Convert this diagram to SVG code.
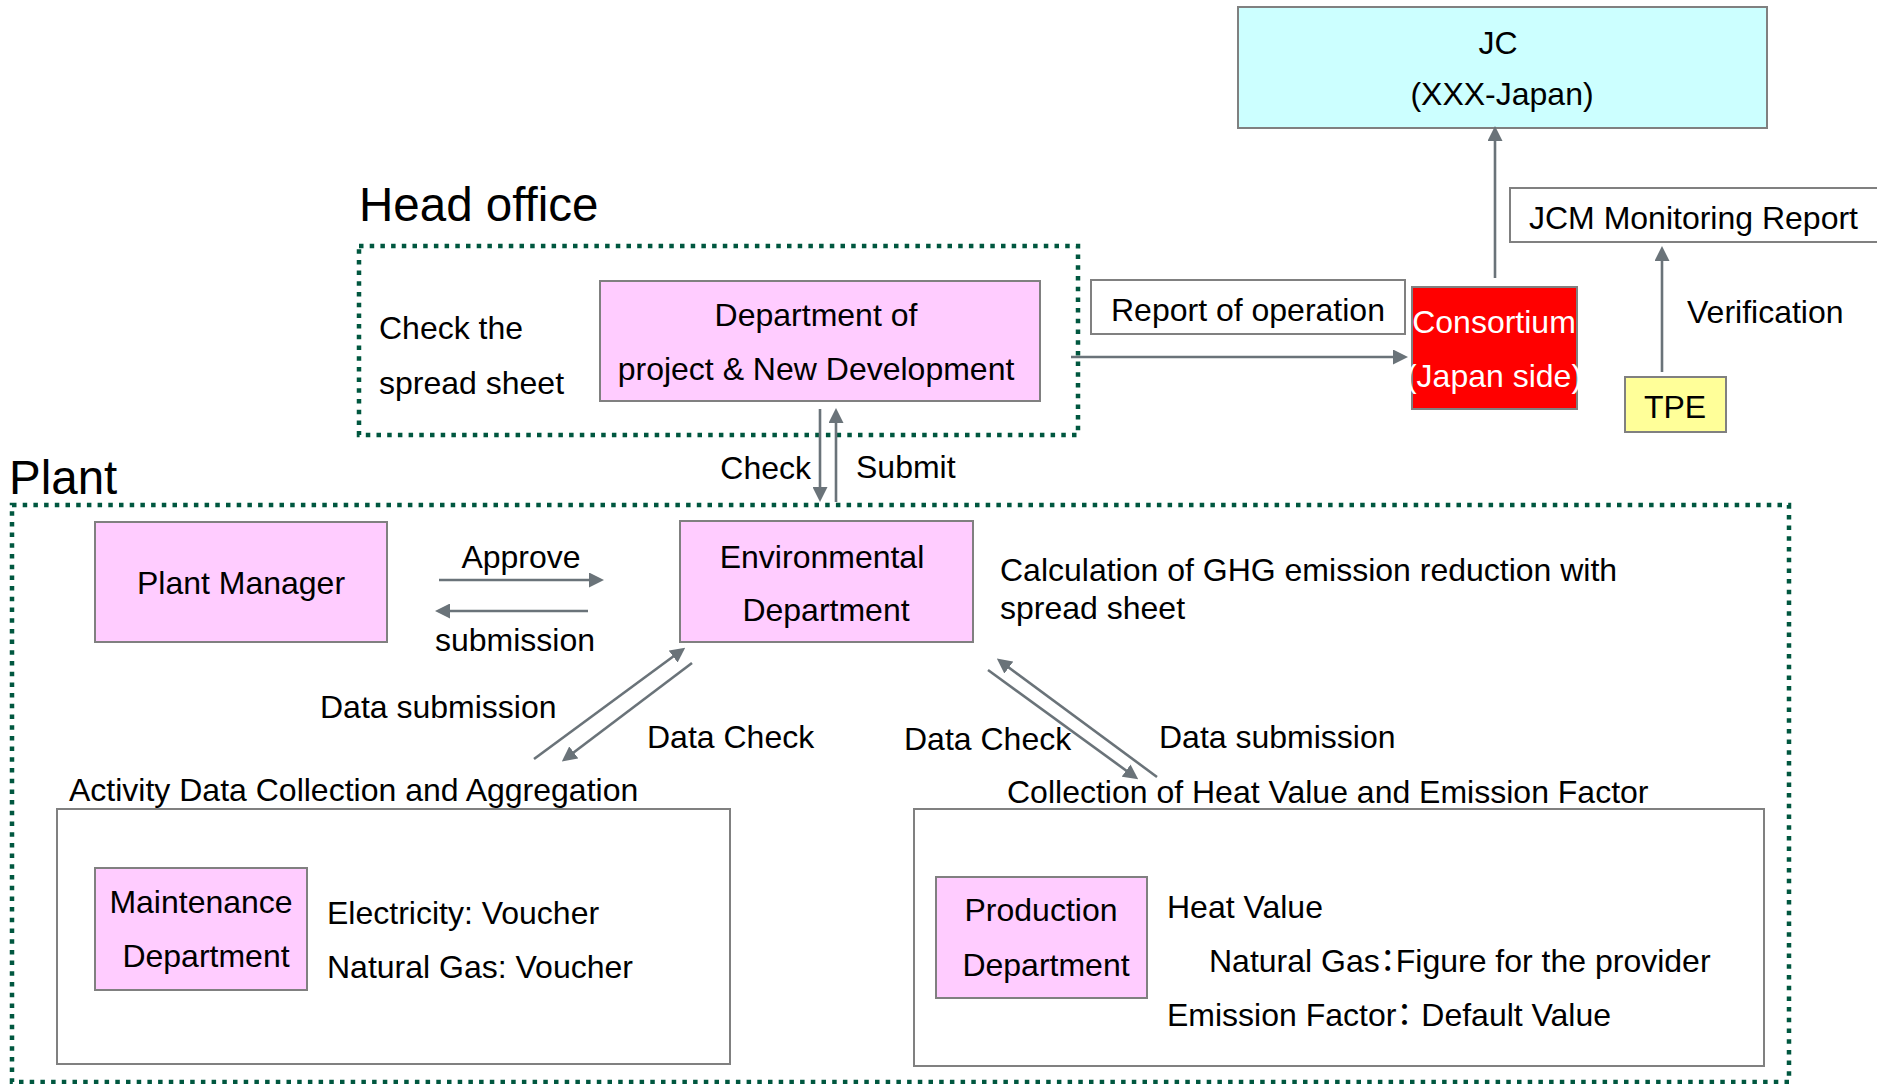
<svg xmlns="http://www.w3.org/2000/svg" width="1877" height="1084" viewBox="0 0 1877 1084">
  <style>
    text { font-family: "Liberation Sans", Arial, sans-serif; font-size: 32px; fill: #000; }
    .title { font-size: 47.5px; }
    .mid { text-anchor: middle; }
    .end { text-anchor: end; }
    .white { fill: #fff; }
    .box { stroke: #808080; stroke-width: 2; }
    .pink { fill: #ffccff; }
    .plain { fill: #fff; }
    .zone { fill: none; stroke: #00573f; stroke-width: 4.5; stroke-dasharray: 4.5 6.2; }
    .link { fill: none; stroke: #6a7379; stroke-width: 2.6; marker-end: url(#head); }
    .cjk { font-family: "Liberation Sans", "Noto Sans CJK JP", sans-serif; }
    .half { font-feature-settings: "halt"; }
  </style>
  <defs>
    <marker id="head" markerUnits="userSpaceOnUse" viewBox="0 0 15 15" markerWidth="15" markerHeight="15" refX="11" refY="7.5" orient="auto">
      <path d="M0,0 L15,7.5 L0,15 z" fill="#6a7379"/>
    </marker>
  </defs>

  <rect width="1877" height="1084" fill="#fff"/>

  <!-- zone outlines and their headings -->
  <g id="head-office">
    <text class="title" x="359" y="221">Head office</text>
    <rect class="zone" x="359" y="246" width="719" height="189"/>
    <text x="379" y="339">Check the</text>
    <text x="379" y="394">spread sheet</text>
  </g>
  <g id="plant">
    <text class="title" x="9" y="494">Plant</text>
    <rect class="zone" x="12" y="505" width="1777" height="577"/>
    <text x="1000" y="581">Calculation of GHG emission reduction with</text>
    <text x="1000" y="619">spread sheet</text>
  </g>

  <!-- nodes -->
  <g id="jc">
    <rect class="box" x="1238" y="7" width="529" height="121" fill="#ccffff"/>
    <text class="mid" x="1498" y="54">JC</text>
    <text class="mid" x="1502" y="105">(XXX-Japan)</text>
  </g>
  <g id="jcm-report">
    <rect class="box plain" x="1510" y="188" width="380" height="54"/>
    <text x="1529" y="229">JCM Monitoring Report</text>
  </g>
  <g id="report-of-operation">
    <rect class="box plain" x="1091" y="280" width="314" height="54"/>
    <text x="1111" y="321">Report of operation</text>
  </g>
  <g id="consortium">
    <rect class="box" x="1412" y="287" width="165" height="122" fill="#ff0000"/>
    <text class="mid white" x="1494" y="333">Consortium</text>
    <text class="mid white" x="1494" y="387">(Japan side)</text>
  </g>
  <g id="tpe">
    <rect class="box" x="1625" y="377" width="101" height="55" fill="#ffff99"/>
    <text class="mid" x="1675" y="418">TPE</text>
  </g>
  <g id="dept-project">
    <rect class="box pink" x="600" y="281" width="440" height="120"/>
    <text class="mid" x="816" y="326">Department of</text>
    <text class="mid" x="816" y="380">project &amp; New Development</text>
  </g>
  <g id="plant-manager">
    <rect class="box pink" x="95" y="522" width="292" height="120"/>
    <text class="mid" x="241" y="594">Plant Manager</text>
  </g>
  <g id="environmental">
    <rect class="box pink" x="680" y="521" width="293" height="121"/>
    <text class="mid" x="822" y="568">Environmental</text>
    <text class="mid" x="826" y="621">Department</text>
  </g>
  <g id="activity-data">
    <text x="69" y="801">Activity Data Collection and Aggregation</text>
    <rect class="box plain" x="57" y="809" width="673" height="255"/>
  </g>
  <g id="maintenance">
    <rect class="box pink" x="95" y="868" width="212" height="122"/>
    <text class="mid" x="201" y="913">Maintenance</text>
    <text class="mid" x="206" y="967">Department</text>
    <text x="327" y="924">Electricity: Voucher</text>
    <text x="327" y="978">Natural Gas: Voucher</text>
  </g>
  <g id="heat-value">
    <text x="1007" y="803">Collection of Heat Value and Emission Factor</text>
    <rect class="box plain" x="914" y="809" width="850" height="257"/>
  </g>
  <g id="production">
    <rect class="box pink" x="936" y="877" width="211" height="121"/>
    <text class="mid" x="1041" y="921">Production</text>
    <text class="mid" x="1046" y="976">Department</text>
    <text x="1167" y="918">Heat Value</text>
    <text class="cjk" x="1209" y="972">Natural Gas<tspan class="half">：</tspan>Figure for the provider</text>
    <text class="cjk" x="1167" y="1026">Emission Factor<tspan class="half">：</tspan> Default Value</text>
  </g>

  <!-- connectors -->
  <g id="connectors">
    <path class="link" d="M1071,357 H1404"/>
    <path class="link" d="M1495,278 V130"/>
    <path class="link" d="M1662,372 V250"/>
    <path class="link" d="M820,409 V498"/>
    <path class="link" d="M836,502 V412"/>
    <path class="link" d="M439,580 H600"/>
    <path class="link" d="M588,611 H439"/>
    <path class="link" d="M534,759 L682,650"/>
    <path class="link" d="M692,663 L565,759"/>
    <path class="link" d="M988,670 L1135,777"/>
    <path class="link" d="M1157,777 L1000,661"/>
  </g>

  <!-- connector labels -->
  <g id="labels">
    <text x="1687" y="323">Verification</text>
    <text class="end" x="811" y="479">Check</text>
    <text x="856" y="478">Submit</text>
    <text class="mid" x="521" y="568">Approve</text>
    <text class="mid" x="515" y="651">submission</text>
    <text x="320" y="718">Data submission</text>
    <text x="647" y="748">Data Check</text>
    <text x="904" y="750">Data Check</text>
    <text x="1159" y="748">Data submission</text>
  </g>
</svg>
